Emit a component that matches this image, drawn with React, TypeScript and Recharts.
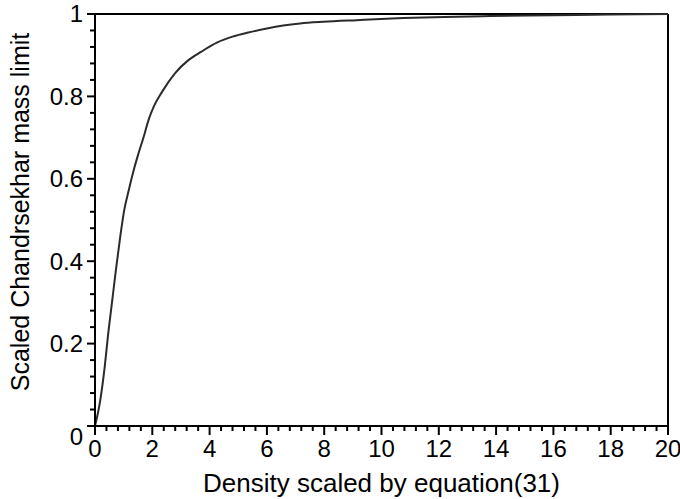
import { LineChart, Line, XAxis, YAxis, ReferenceLine, Label } from 'recharts';

// density (x) and scaled mass limit (y)
const density = [
  0, 0.185, 0.34, 0.45, 0.59, 0.73, 0.88, 1.02, 1.18, 1.35, 1.52, 1.7, 1.87, 2.05, 2.34,
  2.79, 3.26, 3.7, 4.27, 4.8, 5.35, 6.0, 6.57, 7.16, 7.97, 9.13, 10.76, 12.2, 13.8, 16, 18, 20,
];
const massLimit = [
  0, 0.063, 0.144, 0.217, 0.298, 0.379, 0.459, 0.524, 0.573, 0.621, 0.662, 0.702, 0.743, 0.775,
  0.811, 0.856, 0.888, 0.908, 0.931, 0.945, 0.955, 0.965, 0.972, 0.977, 0.981, 0.985, 0.99,
  0.993, 0.995, 0.997, 0.999, 1.0,
];

const xMajorTicks = [0, 2, 4, 6, 8, 10, 12, 14, 16, 18, 20];
const yMajorTicks = [0, 0.2, 0.4, 0.6, 0.8, 1];
const X_MINOR_STEP = 0.4;
const Y_MINOR_STEP = 0.04;

const xTicks = Array.from({ length: 51 }, (_, i) => Number((i * X_MINOR_STEP).toFixed(2)));
const yTicks = Array.from({ length: 26 }, (_, i) => Number((i * Y_MINOR_STEP).toFixed(2)));

const data = density.map((d, i) => ({ density: d, mass: massLimit[i] }));

const FONT = '"Liberation Sans", Arial, sans-serif';
const INK = '#000';

const isIn = (list: number[], v: number) => list.some((t) => Math.abs(t - v) < 1e-6);

function XTick({ x, y, payload }: any) {
  const v = payload.value as number;
  const major = isIn(xMajorTicks, v);
  return (
    <g>
      <line x1={x} x2={x} y1={y} y2={y + (major ? 9 : 5)} stroke={INK} strokeWidth={2} />
      {major && (
        <text x={x} y={y + 31} textAnchor="middle" fontSize={24} fontFamily={FONT} fill={INK}>
          {v}
        </text>
      )}
    </g>
  );
}

function YTick({ x, y, payload }: any) {
  const v = payload.value as number;
  const major = isIn(yMajorTicks, v);
  return (
    <g>
      <line x1={x - (major ? 8 : 5)} x2={x} y1={y} y2={y} stroke={INK} strokeWidth={2} />
      {major && (
        <text
          x={x - 12}
          y={y + (v === 0 ? 11 : 0)}
          dy="0.35em"
          textAnchor="end"
          fontSize={24}
          fontFamily={FONT}
          fill={INK}
        >
          {v}
        </text>
      )}
    </g>
  );
}

export default function App() {
  return (
    <div style={{ position: 'absolute', left: 0, top: 0, width: 680, height: 499, background: '#fff' }}>
      <LineChart width={680} height={499} data={data} margin={{ top: 14, right: 12, bottom: 0, left: 0 }}>
        <XAxis
          dataKey="density"
          type="number"
          domain={[0, 20]}
          ticks={xTicks}
          interval={0}
          height={73}
          tickSize={0}
          tickMargin={0}
          tickLine={false}
          tick={<XTick />}
          axisLine={{ stroke: INK, strokeWidth: 2 }}
        >
          <Label
            content={({ viewBox }: any) => (
              <text
                x={viewBox.x + viewBox.width / 2}
                y={viewBox.y + 66}
                textAnchor="middle"
                fontSize={26}
                fontFamily={FONT}
                fill={INK}
              >
                Density scaled by equation(31)
              </text>
            )}
          />
        </XAxis>
        <YAxis
          type="number"
          domain={[0, 1]}
          ticks={yTicks}
          interval={0}
          width={95}
          tickSize={0}
          tickMargin={0}
          tickLine={false}
          tick={<YTick />}
          axisLine={{ stroke: INK, strokeWidth: 2 }}
        >
          <Label
            content={({ viewBox }: any) => {
              const cx = 29;
              const cy = viewBox.y + viewBox.height / 2 - 8;
              return (
                <text
                  x={cx}
                  y={cy}
                  transform={`rotate(-90 ${cx} ${cy})`}
                  textAnchor="middle"
                  fontSize={25}
                  fontFamily={FONT}
                  fill={INK}
                >
                  Scaled Chandrsekhar mass limit
                </text>
              );
            }}
          />
        </YAxis>
        <ReferenceLine y={1} stroke={INK} strokeWidth={2} />
        <ReferenceLine x={20} stroke={INK} strokeWidth={2} />
        <Line
          type="monotone"
          dataKey="mass"
          stroke="#2b2b2b"
          strokeWidth={2}
          dot={false}
          isAnimationActive={false}
        />
      </LineChart>
    </div>
  );
}
